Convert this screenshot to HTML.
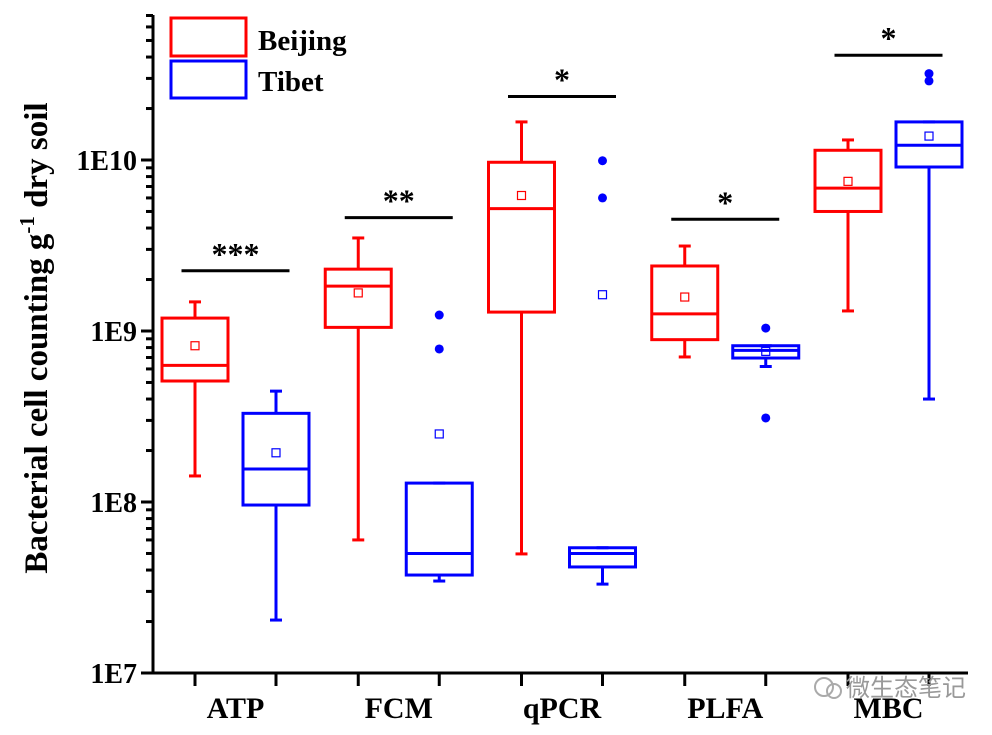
<!DOCTYPE html>
<html><head><meta charset="utf-8"><style>
body{margin:0;background:#fff;}
svg text{font-family:"Liberation Serif",serif;font-weight:bold;}
</style></head><body>
<svg id="chart" width="992" height="730" xmlns="http://www.w3.org/2000/svg">
<text transform="translate(47,338) rotate(-90)" text-anchor="middle" font-size="33">Bacterial cell counting g<tspan dy="-13" font-size="21">-1</tspan><tspan dy="13"> dry soil</tspan></text>
<g id="axes"></g><g id="marks"></g>
<g>
<rect x="171" y="18" width="75" height="38" fill="none" stroke="#f00" stroke-width="3"/>
<text x="258" y="50" font-size="29">Beijing</text>
<rect x="171" y="61" width="75" height="37" fill="none" stroke="#00f" stroke-width="3"/>
<text x="258" y="91" font-size="29">Tibet</text>
</g>
<g>
<circle cx="824" cy="687" r="9" fill="none" stroke="#aaa" stroke-width="2"/>
<circle cx="834" cy="691" r="7" fill="none" stroke="#aaa" stroke-width="2"/>
<text x="846" y="696" font-size="24" fill="#999" style="font-family:'Noto Sans CJK SC',sans-serif;font-weight:normal">微生态笔记</text>
</g>
</svg>
<script>
const categories=["ATP","FCM","qPCR","PLFA","MBC"];
const beijingWhiskerHigh=[1.48e9,3.5e9,1.67e10,3.14e9,1.31e10];
const beijingQ3=[1.19e9,2.3e9,9.7e9,2.4e9,1.14e10];
const beijingMedian=[6.3e8,1.83e9,5.2e9,1.26e9,6.85e9];
const beijingQ1=[5.1e8,1.05e9,1.29e9,8.9e8,5.0e9];
const beijingWhiskerLow=[1.42e8,6.0e7,4.97e7,7.05e8,1.31e9];
const beijingMean=[8.2e8,1.67e9,6.2e9,1.58e9,7.5e9];
const tibetWhiskerHigh=[4.45e8,1.29e8,5.4e7,8.2e8,1.67e10];
const tibetQ3=[3.3e8,1.29e8,5.4e7,8.2e8,1.67e10];
const tibetMedian=[1.56e8,5.0e7,5.0e7,7.7e8,1.22e10];
const tibetQ1=[9.6e7,3.74e7,4.17e7,6.95e8,9.1e9];
const tibetWhiskerLow=[2.04e7,3.45e7,3.31e7,6.2e8,4.0e8];
const tibetMean=[1.94e8,2.5e8,1.63e9,7.6e8,1.38e10];
const tibetOutliers=[[],[1.24e9,7.85e8],[9.9e9,6.0e9],[1.04e9,3.1e8],[3.2e10,2.9e10]];
const sigLabels=["***","**","*","*","*"];
const sigLevels=[2.25e9,4.6e9,2.35e10,4.5e9,4.1e10];
const yTickLabels=["1E7","1E8","1E9","1E10"];
const yTickValues=[1e7,1e8,1e9,1e10];

const NS="http://www.w3.org/2000/svg";
const X0=153,X1=968,YB=673,YT=15,DEC=171;
function y(v){return YB-(Math.log10(v)-7)*DEC;}
function xc(i,s){return 195+i*163.25+s*81;}
function el(tag,attrs,parent,txt){const e=document.createElementNS(NS,tag);for(const k in attrs)e.setAttribute(k,attrs[k]);if(txt!==undefined)e.textContent=txt;parent.appendChild(e);return e;}
const axes=document.getElementById('axes'),marks=document.getElementById('marks');
let a=el('line',{x1:X0,y1:YT,x2:X0,y2:YB+1.5,stroke:'#000','stroke-width':3},axes);

a=el('line',{x1:X0-1.5,y1:YB,x2:X1,y2:YB,stroke:'#000','stroke-width':3},axes);

yTickValues.forEach((v,i)=>{
 let t=el('line',{x1:X0-12,y1:y(v),x2:X0,y2:y(v),stroke:'#000','stroke-width':3},axes);
 
 let l=el('text',{x:X0-16,y:y(v)+10,'text-anchor':'end','font-size':28},axes,yTickLabels[i]);
 
});
for(let d=7;d<=10;d++)for(let m=2;m<=9;m++){const v=m*Math.pow(10,d);if(y(v)<YT)continue;
 let t=el('line',{x1:X0-7,y1:y(v),x2:X0,y2:y(v),stroke:'#000','stroke-width':3},axes);
 }
function box(i,s,col,hi,q3,med,q1,lo,mean,name){
 const g=el('g',{},marks);
 const cx=xc(i,s),w=66;
 el('line',{x1:cx,y1:y(hi),x2:cx,y2:y(q3),stroke:col,'stroke-width':3},g);
 el('line',{x1:cx,y1:y(q1),x2:cx,y2:y(lo),stroke:col,'stroke-width':3},g);
 el('line',{x1:cx-6,y1:y(hi),x2:cx+6,y2:y(hi),stroke:col,'stroke-width':3},g);
 el('line',{x1:cx-6,y1:y(lo),x2:cx+6,y2:y(lo),stroke:col,'stroke-width':3},g);
 el('rect',{x:cx-w/2,y:y(q3),width:w,height:y(q1)-y(q3),fill:'none',stroke:col,'stroke-width':3},g);
 el('line',{x1:cx-w/2,y1:y(med),x2:cx+w/2,y2:y(med),stroke:col,'stroke-width':3},g);
 el('rect',{x:cx-4,y:y(mean)-4,width:8,height:8,fill:'none',stroke:col,'stroke-width':1.2},g);
}
categories.forEach((c,i)=>{
 box(i,0,'#f00',beijingWhiskerHigh[i],beijingQ3[i],beijingMedian[i],beijingQ1[i],beijingWhiskerLow[i],beijingMean[i],'box-beijing-'+c.toLowerCase());
 box(i,1,'#00f',tibetWhiskerHigh[i],tibetQ3[i],tibetMedian[i],tibetQ1[i],tibetWhiskerLow[i],tibetMean[i],'box-tibet-'+c.toLowerCase());
 tibetOutliers[i].forEach(v=>{const p=el('circle',{cx:xc(i,1),cy:y(v),r:4.5,fill:'#00f'},marks);
  });
 for(const s of [0,1]){const t=el('line',{x1:xc(i,s),y1:YB,x2:xc(i,s),y2:YB+13,stroke:'#000','stroke-width':3},axes);
  }
 const mid=(xc(i,0)+xc(i,1))/2;
 const lb=el('text',{x:mid,y:718,'text-anchor':'middle','font-size':30},axes,c);
 
 const sl=el('line',{x1:mid-54,y1:y(sigLevels[i]),x2:mid+54,y2:y(sigLevels[i]),stroke:'#000','stroke-width':3},marks);
 
 const st=el('text',{x:mid,y:y(sigLevels[i])-6,'text-anchor':'middle','font-size':32},marks,sigLabels[i]);
 
});
</script>
</body></html>
